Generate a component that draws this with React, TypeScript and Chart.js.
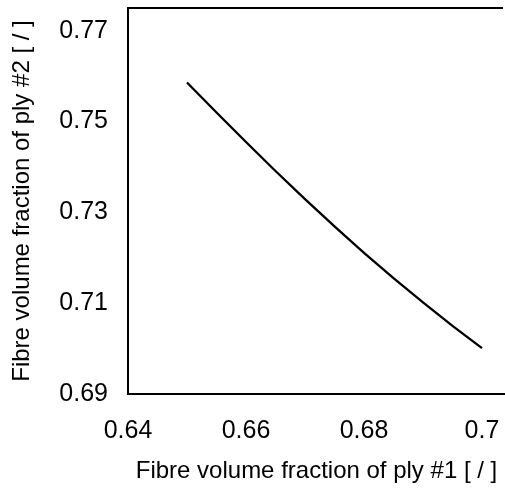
import React, { useEffect, useRef } from "react";
import { Chart, registerables } from "chart.js";

Chart.register(...registerables);

const ply1Fraction = [0.65, 0.655, 0.66, 0.665, 0.67, 0.675, 0.68, 0.685, 0.69, 0.695, 0.7];
const ply2Fraction = [0.7586, 0.752, 0.7455, 0.7391, 0.7329, 0.7269, 0.7211, 0.7155, 0.7102, 0.705, 0.7001];
const xTickValues = [0.64, 0.66, 0.68, 0.7];
const xTickLabels = ["0.64", "0.66", "0.68", "0.7"];
const yTickValues = [0.69, 0.71, 0.73, 0.75, 0.77];
const yTickLabels = ["0.69", "0.71", "0.73", "0.75", "0.77"];
const xTitle = "Fibre volume fraction of ply #1 [ / ]";
const yTitle = "Fibre volume fraction of ply #2 [ / ]";

const FONT = "'Liberation Sans', Arial, sans-serif";

const topBorder = {
  id: "topBorder",
  afterDraw(chart: any) {
    const { ctx, chartArea } = chart;
    ctx.save();
    ctx.strokeStyle = "#000";
    ctx.lineWidth = 2;
    ctx.lineCap = "butt";
    ctx.beginPath();
    ctx.moveTo(chartArea.left - 1, chartArea.top);
    ctx.lineTo(chartArea.right - 2, chartArea.top);
    ctx.stroke();
    ctx.restore();
  },
};

export default function App() {
  const ref = useRef<HTMLCanvasElement>(null);
  useEffect(() => {
    if (!ref.current) return;
    const chart = new Chart(ref.current, {
      type: "line",
      data: {
        datasets: [
          {
            data: ply1Fraction.map((x, i) => ({ x, y: ply2Fraction[i] })),
            borderColor: "#000",
            borderWidth: 2.3,
            pointRadius: 0,
            tension: 0,
            fill: false,
          },
        ],
      },
      plugins: [topBorder],
      options: {
        animation: false,
        responsive: false,
        layout: { padding: { top: 8, right: 0, left: 0, bottom: 0 } },
        plugins: { legend: { display: false }, tooltip: { enabled: false } },
        scales: {
          x: {
            type: "linear",
            min: 0.64,
            max: 0.7039,
            afterBuildTicks: (s: any) => {
              s.ticks = xTickValues.map((v) => ({ value: v }));
            },
            afterFit: (s: any) => {
              s.height = 96;
              s.paddingLeft = 0;
              s.paddingRight = 0;
            },
            grid: { display: false, drawTicks: false },
            border: { display: true, color: "#000", width: 2 },
            ticks: {
              color: "#000",
              padding: 22,
              maxRotation: 0,
              font: { family: FONT, size: 25 },
              callback: (v: any) => {
                const i = xTickValues.findIndex((t) => Math.abs(t - v) < 1e-9);
                return i >= 0 ? xTickLabels[i] : "";
              },
            },
            title: {
              display: true,
              text: xTitle,
              color: "#000",
              font: { family: FONT, size: 24 },
              padding: { top: 0, bottom: 4 },
            },
          },
          y: {
            type: "linear",
            min: 0.69,
            max: 0.775,
            afterBuildTicks: (s: any) => {
              s.ticks = yTickValues.map((v) => ({ value: v }));
            },
            afterFit: (s: any) => {
              s.width = 128;
              s.paddingTop = 0;
              s.paddingBottom = 0;
            },
            grid: { display: false, drawTicks: false },
            border: { display: true, color: "#000", width: 2 },
            ticks: {
              color: "#000",
              padding: 20,
              font: { family: FONT, size: 25 },
              callback: (v: any) => {
                const i = yTickValues.findIndex((t) => Math.abs(t - v) < 1e-9);
                return i >= 0 ? yTickLabels[i] : "";
              },
            },
            title: {
              display: true,
              text: yTitle,
              color: "#000",
              font: { family: FONT, size: 24 },
              padding: { top: 8, bottom: 0 },
            },
          },
        },
      },
    } as any);
    return () => chart.destroy();
  }, []);
  return (
    <div style={{ position: "absolute", left: 0, top: 0, width: 505, height: 490, background: "#fff" }}>
      <canvas ref={ref} width={505} height={490} style={{ width: 505, height: 490 }} />
    </div>
  );
}
